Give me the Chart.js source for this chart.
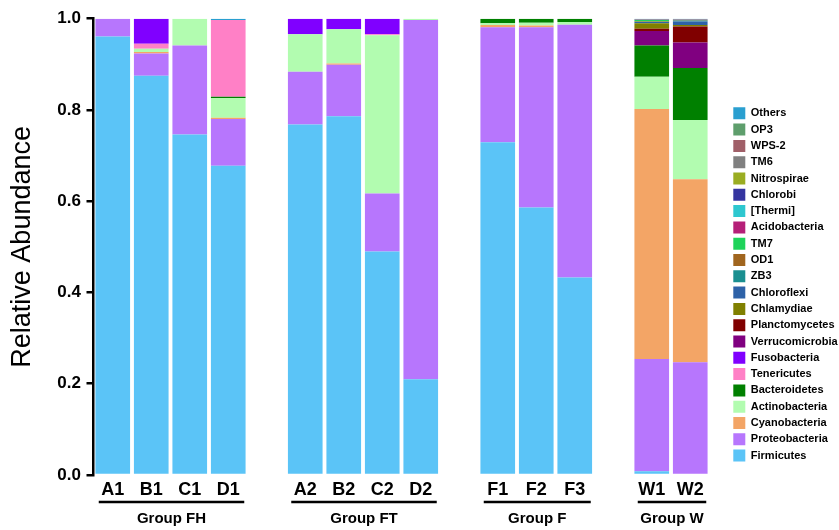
<!DOCTYPE html>
<html>
<head>
<meta charset="utf-8">
<script src="https://cdn.jsdelivr.net/npm/chart.js@4.4.1/dist/chart.umd.min.js"></script>
<style>
  html, body { margin: 0; padding: 0; background: #fff; }
  #wrap { width: 839px; height: 530px; }
</style>
</head>
<body>
<div id="wrap"><canvas id="chart"></canvas></div>
<script>
// samples (empty strings are the gaps between groups)
const samples = ['A1', 'B1', 'C1', 'D1', '', 'A2', 'B2', 'C2', 'D2', '', 'F1', 'F2', 'F3', '', 'W1', 'W2'];

// group captions under the sample labels
const groupNames = ['Group FH', 'Group FT', 'Group F', 'Group W'];
const groupFirst = [0, 5, 10, 14];
const groupLast = [3, 8, 12, 15];

// relative abundance per phylum, same order as samples
const firmicutes      = [0.961, 0.875, 0.746, 0.678, null, 0.768, 0.786, 0.490, 0.210, null, 0.729, 0.586, 0.433, null, 0.008, 0.003];
const proteobacteria  = [0.039, 0.049, 0.195, 0.102, null, 0.116, 0.113, 0.127, 0.787, null, 0.252, 0.395, 0.554, null, 0.246, 0.244];
const cyanobacteria   = [0, 0.003, 0, 0.003, null, 0, 0.003, 0, 0, null, 0.005, 0.004, 0, null, 0.548, 0.401];
const actinobacteria  = [0, 0.007, 0.059, 0.043, null, 0.082, 0.075, 0.347, 0.003, null, 0.004, 0.006, 0.006, null, 0.071, 0.130];
const bacteroidetes   = [0, 0, 0, 0.003, null, 0, 0, 0, 0, null, 0.010, 0.009, 0.007, null, 0.068, 0.114];
const tenericutes     = [0, 0.011, 0, 0.168, null, 0, 0, 0.002, 0, null, 0, 0, 0, null, 0, 0];
const fusobacteria    = [0, 0.055, 0, 0, null, 0.034, 0.023, 0.034, 0, null, 0, 0, 0, null, 0, 0];
const verrucomicrobia = [0, 0, 0, 0, null, 0, 0, 0, 0, null, 0, 0, 0, null, 0.032, 0.056];
const planctomycetes  = [0, 0, 0, 0, null, 0, 0, 0, 0, null, 0, 0, 0, null, 0.005, 0.035];
const chlamydiae      = [0, 0, 0, 0, null, 0, 0, 0, 0, null, 0, 0, 0, null, 0.012, 0.003];
const chloroflexi     = [0, 0, 0, 0, null, 0, 0, 0, 0, null, 0, 0, 0, null, 0.003, 0.008];
const zb3             = [0, 0, 0, 0, null, 0, 0, 0, 0, null, 0, 0, 0, null, 0, 0.002];
const od1             = [0, 0, 0, 0, null, 0, 0, 0, 0, null, 0, 0, 0, null, 0.001, 0.001];
const tm7             = [0, 0, 0, 0, null, 0, 0, 0, 0, null, 0, 0, 0, null, 0.003, 0];
const acidobacteria   = [0, 0, 0, 0, null, 0, 0, 0, 0, null, 0, 0, 0, null, 0, 0];
const thermi          = [0, 0, 0, 0, null, 0, 0, 0, 0, null, 0, 0, 0, null, 0, 0];
const chlorobi        = [0, 0, 0, 0, null, 0, 0, 0, 0, null, 0, 0, 0, null, 0, 0];
const nitrospirae     = [0, 0, 0, 0, null, 0, 0, 0, 0, null, 0, 0, 0, null, 0, 0];
const tm6             = [0, 0, 0, 0, null, 0, 0, 0, 0, null, 0, 0, 0, null, 0, 0];
const wps2            = [0, 0, 0, 0, null, 0, 0, 0, 0, null, 0, 0, 0, null, 0.001, 0.001];
const op3             = [0, 0, 0, 0, null, 0, 0, 0, 0, null, 0, 0, 0, null, 0, 0];
const others          = [0, 0, 0, 0.003, null, 0, 0, 0, 0, null, 0, 0, 0, null, 0.002, 0.002];

const yTicks = [0, 0.2, 0.4, 0.6, 0.8, 1.0];

const FONT = "'Liberation Sans', Arial, sans-serif";

// stacking order bottom -> top
const series = [
  ['Firmicutes', firmicutes, '#5bc4f7'],
  ['Proteobacteria', proteobacteria, '#b776fd'],
  ['Cyanobacteria', cyanobacteria, '#f3a566'],
  ['Actinobacteria', actinobacteria, '#b2fcb0'],
  ['Bacteroidetes', bacteroidetes, '#008000'],
  ['Tenericutes', tenericutes, '#ff80c6'],
  ['Fusobacteria', fusobacteria, '#8000ff'],
  ['Verrucomicrobia', verrucomicrobia, '#800080'],
  ['Planctomycetes', planctomycetes, '#800000'],
  ['Chlamydiae', chlamydiae, '#808000'],
  ['Chloroflexi', chloroflexi, '#2e62a8'],
  ['ZB3', zb3, '#1a8f90'],
  ['OD1', od1, '#a0651e'],
  ['TM7', tm7, '#1ed35a'],
  ['Acidobacteria', acidobacteria, '#b51f78'],
  ['[Thermi]', thermi, '#2ec7cf'],
  ['Chlorobi', chlorobi, '#3535a0'],
  ['Nitrospirae', nitrospirae, '#9aad22'],
  ['TM6', tm6, '#808080'],
  ['WPS-2', wps2, '#a05f68'],
  ['OP3', op3, '#5e9e6c'],
  ['Others', others, '#2a9fd0'],
];

// underline + caption for each sample group
const groupLabels = {
  id: 'groupLabels',
  afterDraw(chart) {
    const { ctx } = chart;
    const x = chart.scales.x;
    ctx.save();
    ctx.strokeStyle = '#000';
    ctx.fillStyle = '#000';
    ctx.lineWidth = 2.5;
    ctx.font = 'bold 15px ' + FONT;
    ctx.textAlign = 'center';
    ctx.textBaseline = 'alphabetic';
    groupNames.forEach((name, i) => {
      const x0 = x.getPixelForValue(groupFirst[i]) - 14;
      const x1 = x.getPixelForValue(groupLast[i]) + 16;
      ctx.beginPath();
      ctx.moveTo(x0, x.top + 27);
      ctx.lineTo(x1, x.top + 27);
      ctx.stroke();
      ctx.fillText(name, (x0 + x1) / 2, x.top + 48);
    });
    ctx.restore();
  }
};

new Chart(document.getElementById('chart'), {
  type: 'bar',
  data: {
    labels: samples,
    datasets: series.map(([label, data, color]) => ({
      label,
      data,
      backgroundColor: color,
      borderWidth: 0,
      barPercentage: 0.9,
      categoryPercentage: 1.0,
    })),
  },
  options: {
    responsive: true,
    maintainAspectRatio: false,
    animation: false,
    layout: { padding: { top: 18.7, left: 0, right: 0, bottom: 0 } },
    plugins: {
      tooltip: { enabled: false },
      legend: {
        position: 'right',
        align: 'start',
        reverse: true,
        maxWidth: 110,
        title: { display: true, text: ' ', font: { size: 10, lineHeight: 1 }, padding: { top: 74.3, bottom: 0 } },
        labels: {
          boxWidth: 12,
          boxHeight: 12,
          padding: 4.3,
          color: '#000',
          font: { family: FONT, size: 11, weight: 'bold' },
        },
      },
    },
    scales: {
      x: {
        stacked: true,
        grid: { display: false, drawTicks: false },
        border: { display: false },
        ticks: {
          autoSkip: false,
          maxRotation: 0,
          padding: 4,
          color: '#000',
          font: { family: FONT, size: 18, weight: 'bold' },
        },
        afterFit: (s) => { s.height = 55; },
      },
      y: {
        stacked: true,
        min: 0,
        max: 1,
        afterBuildTicks: (s) => { s.ticks = yTicks.map((v) => ({ value: v })); },
        grid: { drawOnChartArea: false, color: '#000', lineWidth: 2.5, tickLength: 7 },
        border: { color: '#000', width: 2.5 },
        ticks: {
          padding: 5.5,
          color: '#000',
          font: { family: FONT, size: 17, weight: 'bold' },
          callback: (v) => Number(v).toFixed(1),
        },
        title: {
          display: true,
          text: 'Relative Abundance',
          color: '#000',
          font: { family: FONT, size: 27 },
          padding: { top: 6.4, bottom: 0 },
        },
        afterFit: (s) => { s.width = 93.5; },
      },
      // spacer between plot and legend
      gap: {
        type: 'linear',
        position: 'right',
        display: true,
        grid: { display: false },
        border: { display: false },
        ticks: { display: false },
        afterFit: (s) => { s.width = 19.5; },
      },
    },
  },
  plugins: [groupLabels],
});
</script>
</body>
</html>
